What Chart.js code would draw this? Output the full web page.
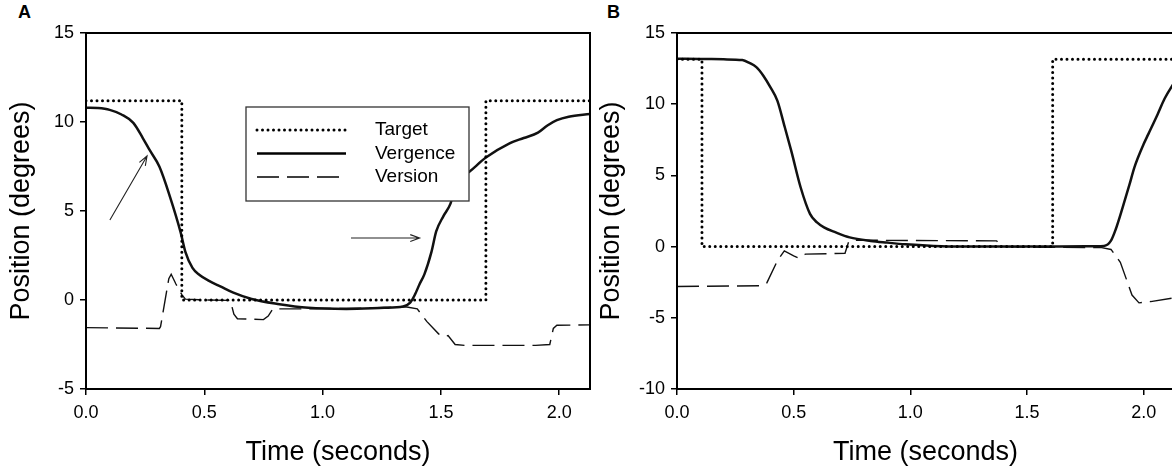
<!DOCTYPE html>
<html lang="en">
<head>
<meta charset="UTF-8">
<title>Target, vergence and version position traces</title>
<script src="https://cdn.jsdelivr.net/npm/chart.js@4.4.0/dist/chart.umd.min.js"></script>
<style>
  html, body { margin: 0; padding: 0; background: #fff; overflow: hidden; width: 1172px; height: 471px; }
  canvas { position: absolute; top: 0; }
  #chartA { left: 0; }
  #chartB { left: 590px; }
  .tag { position: absolute; top: 2px; font: bold 18px "Liberation Sans", Arial, sans-serif; color: #000; }
</style>
</head>
<body>
<div class="tag" style="left:18px">A</div>
<div class="tag" style="left:607px">B</div>
<canvas id="chartA" width="600" height="471"></canvas>
<canvas id="chartB" width="600" height="471"></canvas>

<script>
// ---- data (time in s, position in degrees) ----
const xTicks = [0, 0.5, 1.0, 1.5, 2.0];
const yTicksA = [-5, 0, 5, 10, 15];
const yTicksB = [-10, -5, 0, 5, 10, 15];

// panel A
const targetATime = [0, 0.405, 0.405, 1.69, 1.69, 2.13];
const targetAPos  = [11.2, 11.2, 0, 0, 11.2, 11.2];

const vergenceATime = [0, 0.05, 0.1, 0.15, 0.2, 0.24, 0.27, 0.31, 0.355, 0.40, 0.42, 0.45, 0.48, 0.52, 0.57, 0.62, 0.70, 0.81, 0.94, 1.1, 1.26, 1.34, 1.37, 1.39, 1.41, 1.43, 1.46, 1.48, 1.51, 1.54, 1.56, 1.59, 1.62, 1.69, 1.79, 1.85, 1.91, 1.95, 1.99, 2.04, 2.13];
const vergenceAPos  = [10.8, 10.78, 10.68, 10.42, 9.95, 9.1, 8.4, 7.5, 5.8, 3.8, 2.7, 1.8, 1.4, 1.07, 0.75, 0.43, 0.06, -0.22, -0.44, -0.5, -0.44, -0.37, -0.15, 0.3, 0.9, 1.44, 2.7, 3.85, 4.7, 5.4, 6.3, 6.9, 7.2, 8.0, 8.8, 9.1, 9.4, 9.8, 10.1, 10.3, 10.45];

const versionATime = [0, 0.31, 0.315, 0.35, 0.36, 0.38, 0.405, 0.42, 0.5, 0.61, 0.625, 0.64, 0.75, 0.77, 0.79, 0.9, 1.0, 1.2, 1.35, 1.4, 1.44, 1.49, 1.51, 1.53, 1.56, 1.6, 1.9, 1.96, 1.975, 1.99, 2.13];
const versionAPos  = [-1.55, -1.6, -1.5, 1.2, 1.45, 0.9, 0.3, 0.05, 0, -0.02, -0.8, -1.05, -1.1, -0.9, -0.5, -0.5, -0.48, -0.45, -0.38, -0.5, -1.2, -1.9, -2.05, -2.0, -2.5, -2.55, -2.55, -2.5, -1.6, -1.42, -1.4];

// panel B
const targetBTime = [0, 0.107, 0.107, 1.61, 1.61, 2.13];
const targetBPos  = [13.15, 13.15, 0, 0, 13.15, 13.15];

const vergenceBTime = [0, 0.1, 0.2, 0.28, 0.31, 0.34, 0.37, 0.40, 0.43, 0.46, 0.49, 0.53, 0.57, 0.6, 0.63, 0.68, 0.74, 0.83, 0.9, 0.98, 1.1, 1.21, 1.5, 1.75, 1.83, 1.86, 1.88, 1.91, 1.94, 1.96, 2.0, 2.02, 2.06, 2.09, 2.13];
const vergenceBPos  = [13.2, 13.18, 13.15, 13.1, 12.9, 12.6, 12.0, 11.2, 10.25, 8.5, 6.7, 4.15, 2.3, 1.7, 1.35, 1.0, 0.65, 0.4, 0.28, 0.16, 0.05, 0, 0, 0.02, 0.05, 0.42, 1.2, 2.75, 4.4, 5.55, 7.2, 7.9, 9.3, 10.4, 11.5];

const versionBTime = [0, 0.36, 0.385, 0.43, 0.46, 0.5, 0.52, 0.55, 0.72, 0.735, 0.75, 1.37, 1.39, 1.6, 1.82, 1.86, 1.9, 1.95, 1.98, 2.03, 2.13];
const versionBPos  = [-2.8, -2.75, -2.55, -1.0, -0.3, -0.65, -0.8, -0.53, -0.47, 0.3, 0.45, 0.4, 0.0, -0.05, -0.07, -0.2, -1.1, -3.4, -3.95, -3.86, -3.6];

// arrows drawn on panel A, in data units
const arrowsA = [
  { from: [0.101, 4.49], to: [0.258, 8.09] },
  { from: [1.12, 3.48], to: [1.41, 3.48] }
];

const FONT = '"Liberation Sans", Arial, sans-serif';

function pts(t, v) {
  return t.map((x, i) => ({ x: x, y: v[i] }));
}

function makeDatasets(tT, tV, vT, vV, sT, sV) {
  return [
    { label: 'Target', data: pts(tT, tV), borderColor: '#000', borderWidth: 3,
      borderDash: [0, 5.5], borderCapStyle: 'round', pointRadius: 0, tension: 0 },
    { label: 'Vergence', data: pts(vT, vV), borderColor: '#111', borderWidth: 2.5,
      pointRadius: 0, cubicInterpolationMode: 'monotone' },
    { label: 'Version', data: pts(sT, sV), borderColor: '#111', borderWidth: 1.4,
      borderDash: [22, 8], pointRadius: 0, tension: 0 }
  ];
}

// box around the plot area
const framePlugin = {
  id: 'frame',
  afterDraw(chart) {
    const { ctx, chartArea: a } = chart;
    ctx.save();
    ctx.strokeStyle = '#000';
    ctx.lineWidth = 2;
    ctx.strokeRect(a.left, a.top, a.right - a.left, a.bottom - a.top);
    ctx.restore();
  }
};

// legend inside the plot, as in the figure
const boxLegend = {
  id: 'boxLegend',
  afterDatasetsDraw(chart, args, opts) {
    if (!opts.show) return;
    const ctx = chart.ctx;
    ctx.save();
    ctx.fillStyle = '#fff';
    ctx.fillRect(opts.x, opts.y, opts.w, opts.h);
    ctx.strokeStyle = '#333';
    ctx.lineWidth = 1.3;
    ctx.strokeRect(opts.x, opts.y, opts.w, opts.h);
    chart.data.datasets.forEach((ds, i) => {
      const y = opts.y + 23 + i * 23.5;
      ctx.beginPath();
      ctx.strokeStyle = '#000';
      ctx.setLineDash(ds.borderDash || []);
      ctx.lineCap = ds.borderCapStyle || 'butt';
      ctx.lineWidth = ds.borderWidth;
      ctx.moveTo(opts.x + 11, y);
      ctx.lineTo(opts.x + 100, y);
      ctx.stroke();
      ctx.setLineDash([]);
      ctx.fillStyle = '#000';
      ctx.font = '19px ' + FONT;
      ctx.textBaseline = 'middle';
      ctx.fillText(ds.label, opts.x + 129, y);
    });
    ctx.restore();
  }
};

// thin arrows with open heads
const arrowPlugin = {
  id: 'arrows',
  afterDatasetsDraw(chart, args, opts) {
    if (!opts.list) return;
    const ctx = chart.ctx, xs = chart.scales.x, ys = chart.scales.y;
    ctx.save();
    ctx.strokeStyle = '#222';
    ctx.lineWidth = 1.1;
    opts.list.forEach(a => {
      const x1 = xs.getPixelForValue(a.from[0]), y1 = ys.getPixelForValue(a.from[1]);
      const x2 = xs.getPixelForValue(a.to[0]), y2 = ys.getPixelForValue(a.to[1]);
      const ang = Math.atan2(y2 - y1, x2 - x1), h = 10;
      ctx.beginPath();
      ctx.moveTo(x1, y1);
      ctx.lineTo(x2, y2);
      ctx.moveTo(x2 - h * Math.cos(ang - 0.35), y2 - h * Math.sin(ang - 0.35));
      ctx.lineTo(x2, y2);
      ctx.lineTo(x2 - h * Math.cos(ang + 0.35), y2 - h * Math.sin(ang + 0.35));
      ctx.stroke();
    });
    ctx.restore();
  }
};

function makeOptions(yMin, yMax, yTicks, yWidth, padRight, extra) {
  const grid = { drawOnChartArea: false, drawTicks: true, tickLength: 6, color: '#000', lineWidth: 1.5 };
  const border = { display: true, color: '#000', width: 2 };
  return {
    responsive: false,
    animation: false,
    devicePixelRatio: 1,
    layout: { padding: { top: 33, right: padRight, left: 0, bottom: 0 } },
    plugins: {
      legend: { display: false },
      tooltip: { enabled: false },
      boxLegend: extra.legend || {},
      arrows: extra.arrows || {}
    },
    scales: {
      x: {
        type: 'linear', min: 0, max: 2.13,
        afterFit: s => { s.height = 82; },
        afterBuildTicks: s => { s.ticks = xTicks.map(v => ({ value: v })); },
        ticks: { callback: v => v.toFixed(1), color: '#000', padding: 7, maxRotation: 0,
                 font: { family: FONT, size: 18 } },
        grid: grid, border: border,
        title: { display: true, text: 'Time (seconds)', color: '#000',
                 font: { family: FONT, size: 27 }, padding: { top: 2, bottom: 2 } }
      },
      y: {
        min: yMin, max: yMax,
        afterFit: s => { s.width = yWidth; },
        afterBuildTicks: s => { s.ticks = yTicks.map(v => ({ value: v })); },
        ticks: { color: '#000', padding: 6, font: { family: FONT, size: 18 } },
        grid: grid, border: border,
        title: { display: true, text: 'Position (degrees)', color: '#000',
                 font: { family: FONT, size: 27 }, padding: { top: 5, bottom: 0 } }
      }
    }
  };
}

new Chart(document.getElementById('chartA'), {
  type: 'line',
  data: { datasets: makeDatasets(targetATime, targetAPos, vergenceATime, vergenceAPos, versionATime, versionAPos) },
  options: makeOptions(-5, 15, yTicksA, 86, 10, {
    legend: { show: true, x: 246, y: 107, w: 223, h: 94 },
    arrows: { list: arrowsA }
  }),
  plugins: [framePlugin, boxLegend, arrowPlugin]
});

new Chart(document.getElementById('chartB'), {
  type: 'line',
  data: { datasets: makeDatasets(targetBTime, targetBPos, vergenceBTime, vergenceBPos, versionBTime, versionBPos) },
  options: makeOptions(-10, 15, yTicksB, 87, 16, {}),
  plugins: [framePlugin, boxLegend, arrowPlugin]
});
</script>
</body>
</html>
